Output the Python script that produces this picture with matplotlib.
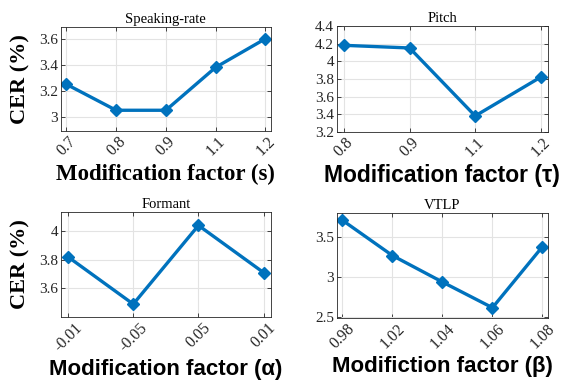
import matplotlib.pyplot as plt

# data
rate_x = ["0.7", "0.8", "0.9", "1.1", "1.2"]
rate_cer = [3.25, 3.05, 3.05, 3.38, 3.60]

pitch_x = ["0.8", "0.9", "1.1", "1.2"]
pitch_cer = [4.18, 4.15, 3.38, 3.82]

formant_x = ["-0.01", "-0.05", "0.05", "0.01"]
formant_cer = [3.82, 3.49, 4.04, 3.71]

vtlp_x = ["0.98", "1.02", "1.04", "1.06", "1.08"]
vtlp_cer = [3.71, 3.27, 2.94, 2.62, 3.38]

blue = "#0072BD"
serif = "Liberation Serif"
sans = "Liberation Sans"

fig = plt.figure(figsize=(5.69, 3.81), dpi=100)

panels = [
    # rect, labels, values, title, xlabel, xlabel font, xlabel size, ylim, yticks, show ylabel
    ([0.107, 0.656, 0.369, 0.273], rate_x, rate_cer, "Speaking-rate",
     "Modification factor (s)", serif, 16.5, (2.89, 3.69), [3, 3.2, 3.4, 3.6], True),
    ([0.592, 0.654, 0.371, 0.278], pitch_x, pitch_cer, "Pitch",
     "Modification factor (\u03c4)", sans, 16.5, (3.2, 4.4),
     [3.2, 3.4, 3.6, 3.8, 4, 4.2, 4.4], False),
    ([0.107, 0.168, 0.369, 0.276], formant_x, formant_cer, "Formant",
     "Modification factor (\u03b1)", sans, 16, (3.40, 4.135), [3.6, 3.8, 4], True),
    ([0.592, 0.165, 0.371, 0.276], vtlp_x, vtlp_cer, "VTLP",
     "Modifiction factor (\u03b2)", sans, 16, (2.49, 3.80), [2.5, 3, 3.5], False),
]

for rect, labels, vals, title, xlab, xfont, xsize, ylim, yticks, showy in panels:
    ax = fig.add_axes(rect)
    xs = list(range(len(labels)))
    ax.plot(xs, vals, color=blue, lw=2.4, marker="D", ms=6,
            markerfacecolor=blue, markeredgecolor=blue)
    pad = 0.11
    ax.set_xlim(-pad, len(labels) - 1 + pad)
    ax.set_ylim(*ylim)
    ax.set_xticks(xs)
    ax.set_xticklabels(labels, rotation=45, ha="center", va="top",
                       family=serif, fontsize=11.5, color="#262626")
    ax.set_yticks(yticks)
    ax.set_yticklabels([("%g" % t) for t in yticks], family=serif,
                       fontsize=11, color="#262626")
    ax.tick_params(direction="in", length=3, color="#262626", width=0.6,
                   top=True, right=True, pad=2)
    ax.grid(True, color="#e3e3e3", lw=0.8)
    ax.set_axisbelow(True)
    for s in ax.spines.values():
        s.set_color("#262626")
        s.set_linewidth(0.6)
    ax.set_title(title, family=serif, fontsize=10.5, pad=3)
    ax.set_xlabel(xlab, family=xfont, fontsize=xsize, fontweight="bold",
                  labelpad=3)
    if showy:
        ax.set_ylabel("CER (%)", family=serif, fontsize=16, fontweight="bold",
                      labelpad=6)

fig.savefig("out.png", dpi=100)
